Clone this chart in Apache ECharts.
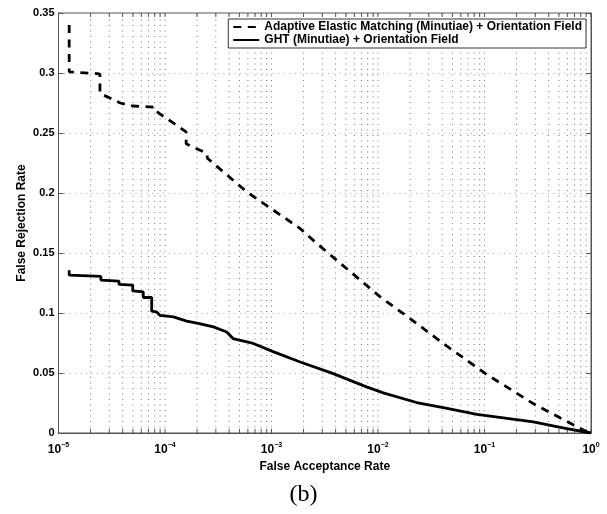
<!DOCTYPE html>
<html>
<head>
<meta charset="utf-8">
<script src="https://cdn.jsdelivr.net/npm/echarts@6/dist/echarts.min.js"></script>
<style>html,body{margin:0;padding:0;background:#fff}#c{width:607px;height:514px}</style>
</head>
<body>
<div id="c"></div>
<script>
// Adaptive Elastic Matching (Minutiae) + Orientation Field  (dashed)
const aemFAR = [1.26e-5, 1.26e-5, 2.3e-5, 2.45e-5, 2.45e-5, 3.8e-5, 5.0e-5, 8.2e-5, 8.6e-5, 1.58e-4, 1.58e-4, 2.47e-4, 2.5e-4, 5.85e-4, 1.85e-3, 2.66e-3, 1.05e-2, 2.0e-2, 4.1e-2, 1.02e-1, 2.87e-1, 9.1e-1, 1.0];
const aemFRR = [0.340, 0.301, 0.2995, 0.299, 0.283, 0.275, 0.2725, 0.2714, 0.267, 0.251, 0.241, 0.233, 0.229, 0.201, 0.1705, 0.158, 0.1134, 0.0954, 0.0746, 0.0495, 0.0245, 0.001, 0.0];
// GHT (Minutiae) + Orientation Field  (solid)
const ghtFAR = [1.26e-5, 1.26e-5, 2.5e-5, 2.5e-5, 3.7e-5, 3.7e-5, 4.98e-5, 4.98e-5, 6.25e-5, 6.25e-5, 7.5e-5, 7.5e-5, 8.3e-5, 9.0e-5, 1.2e-4, 1.6e-4, 2.1e-4, 2.85e-4, 3.8e-4, 4.35e-4, 6.75e-4, 1.05e-3, 1.86e-3, 3.8e-3, 7.8e-3, 1.12e-2, 2.3e-2, 4.1e-2, 8.5e-2, 2.87e-1, 5.9e-1, 1.0];
const ghtFRR = [0.1357, 0.1315, 0.1305, 0.1274, 0.1265, 0.1238, 0.1233, 0.1184, 0.1176, 0.1129, 0.1129, 0.1015, 0.101, 0.098, 0.0967, 0.0932, 0.0912, 0.0884, 0.0842, 0.0787, 0.0746, 0.0676, 0.0592, 0.0495, 0.0384, 0.0334, 0.0254, 0.0212, 0.0156, 0.0092, 0.0037, 0.0];
// x tick positions (log grid: 1..9 x 10^n)
const xTicks = [];
for (let n = -5; n <= -1; n++) for (let k = 1; k <= 9; k++) xTicks.push(+(k * Math.pow(10, n)).toPrecision(3));
xTicks.push(1);
const yTicks = [0, 0.05, 0.1, 0.15, 0.2, 0.25, 0.3, 0.35];

const FONT = 'Arial, "Liberation Sans", Helvetica, sans-serif';
const zip = (a, b) => a.map((v, i) => [v, b[i]]);
const chart = echarts.init(document.getElementById('c'), null, {renderer: 'canvas'});
chart.setOption({
  animation: false,
  backgroundColor: '#fff',
  grid: {left: 58.5, right: 16, top: 13, bottom: 81, show: true, borderColor: '#555', borderWidth: 1, backgroundColor: 'transparent'},
  legend: {
    right: 21, top: 19, orient: 'vertical', align: 'left',
    backgroundColor: '#fff', borderColor: '#333', borderWidth: 1, padding: [2, 4, 2, 4],
    itemGap: 1, itemWidth: 26, itemHeight: 13,
    itemStyle: {opacity: 0},
    textStyle: {fontFamily: FONT, fontWeight: 'bold', fontSize: 12, color: '#000'},
    data: ['Adaptive Elastic Matching (Minutiae) + Orientation Field', 'GHT (Minutiae) + Orientation Field']
  },
  xAxis: {
    type: 'log', logBase: 10, min: 1e-5, max: 1, interval: 1,
    name: 'False Acceptance Rate', nameLocation: 'middle', nameGap: 22,
    nameTextStyle: {fontFamily: FONT, fontWeight: 'bold', fontSize: 12, color: '#000'},
    axisLine: {show: true, lineStyle: {color: '#555'}},
    axisTick: {show: false},
    splitLine: {show: false},
    axisLabel: {
      margin: 9,
      formatter: v => { const e = Math.round(Math.log10(v)); return '{b|10}{e|' + (e < 0 ? '\u2212' + (-e) : e) + '}'; },
      rich: {
        b: {fontFamily: FONT, fontWeight: 'bold', fontSize: 12, color: '#000'},
        e: {fontFamily: FONT, fontWeight: 'bold', fontSize: 7, color: '#000', padding: [0, 0, 8, 0]}
      }
    }
  },
  yAxis: [{
    type: 'value', min: 0, max: 0.35, interval: 0.05,
    name: 'False Rejection Rate', nameLocation: 'middle', nameGap: 31, nameMoveOverlap: false,
    nameTextStyle: {fontFamily: FONT, fontWeight: 'bold', fontSize: 12, color: '#000'},
    axisLine: {show: true, lineStyle: {color: '#555'}},
    axisTick: {show: true, inside: true, length: 5, lineStyle: {color: '#555'}},
    splitLine: {show: true, lineStyle: {color: '#aaa', type: [1, 4.5], width: 1}},
    axisLabel: {fontFamily: FONT, fontWeight: 'bold', fontSize: 11, color: '#000', margin: 4,
      formatter: v => String(+v.toFixed(2))}
  }, {
    type: 'value', min: 0, max: 0.35, interval: 0.05, position: 'right',
    axisLine: {show: true, lineStyle: {color: '#555'}},
    axisTick: {show: true, inside: true, length: 5, lineStyle: {color: '#555'}},
    splitLine: {show: false}, axisLabel: {show: false}
  }],
  series: [{
    type: 'custom', silent: true, z: 1,
    data: xTicks.map(v => [v]),
    renderItem: (params, api) => {
      const v = api.value(0);
      const b = api.coord([v, 0]);
      const t = api.coord([v, 0.35]);
      const children = [];
      if (v > 1e-5 && v < 1) {
        children.push({type: 'line', shape: {x1: b[0], y1: b[1], x2: t[0], y2: t[1]},
          style: {stroke: '#777', lineWidth: 1, lineDash: [1, 4.5]}});
      }
      children.push({type: 'line', shape: {x1: b[0], y1: b[1], x2: b[0], y2: b[1] - 4}, style: {stroke: '#555', lineWidth: 1}});
      children.push({type: 'line', shape: {x1: t[0], y1: t[1], x2: t[0], y2: t[1] + 4}, style: {stroke: '#555', lineWidth: 1}});
      return {type: 'group', children};
    }
  }, {
    name: 'Adaptive Elastic Matching (Minutiae) + Orientation Field',
    type: 'line', data: zip(aemFAR, aemFRR), symbol: 'none', z: 3,
    lineStyle: {color: '#000', width: 2.8, type: [8, 6.5]}, itemStyle: {color: '#000'}
  }, {
    name: 'GHT (Minutiae) + Orientation Field',
    type: 'line', data: zip(ghtFAR, ghtFRR), symbol: 'none', z: 3,
    lineStyle: {color: '#000', width: 2.8}, itemStyle: {color: '#000'}
  }],
  graphic: [{
    type: 'text', left: 'center', top: 483,
    style: {text: '(b)', font: '24px "Liberation Serif", "Times New Roman", serif', fill: '#000'}
  }]
});
</script>
</body>
</html>
